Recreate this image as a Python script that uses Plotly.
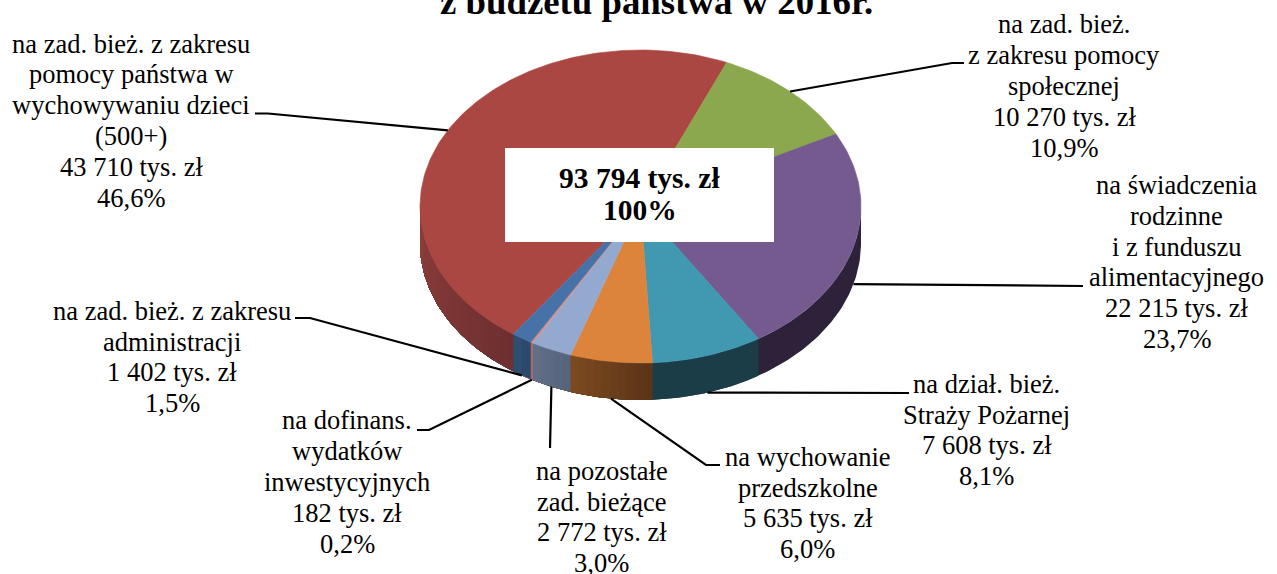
import math
import plotly.graph_objects as go

# ---- data ----
categories = [
    ["na zad. bież. z zakresu", "pomocy państwa w", "wychowywaniu dzieci", "(500+)"],
    ["na zad. bież.", "z zakresu pomocy", "społecznej"],
    ["na świadczenia", "rodzinne", "i z funduszu", "alimentacyjnego"],
    ["na dział. bież.", "Straży Pożarnej"],
    ["na wychowanie", "przedszkolne"],
    ["na pozostałe", "zad. bieżące"],
    ["na dofinans.", "wydatków", "inwestycyjnych"],
    ["na zad. bież. z zakresu", "administracji"],
]
values = [43710, 10270, 22215, 7608, 5635, 2772, 182, 1402]
value_labels = ["43 710", "10 270", "22 215", "7 608", "5 635", "2 772", "182", "1 402"]
pct_labels = ["46,6%", "10,9%", "23,7%", "8,1%", "6,0%", "3,0%", "0,2%", "1,5%"]
total_lines = ["93 794 tys. zł", "100%"]
title_text = "z budżetu państwa w 2016r."

# ---- style ----
top_colors = ["#AB4743", "#8BA84E", "#745A8F", "#4098B1", "#DC843C", "#93A9CF", "#D09490", "#4672A8"]
side_left = ["#8E3E3B", "#5A6C30", "#2D2239", "#1B3D48", "#7C4B20", "#616F88", "#A86A68", "#2F4F74"]
side_right = ["#6E2F30", "#5A6C30", "#2D2239", "#1B3D48", "#5A3417", "#55647A", "#A86A68", "#2A4868"]
FONT = "Liberation Serif"
LABEL_SIZE = 26.5
LINE_PITCH = 30.8

# ---- layout geometry of the pie ----
CX, CY, RX, RY, DEPTH = 640.5, 206.5, 220.5, 156.5, 37
ROTATION = 23 * 1.0
# label centre, elbow points for every leader line
label_pos = [(131, 120.5), (1064, 86), (1176.5, 262), (986.5, 430), (807.5, 503), (601.5, 517), (347, 482), (172, 357)]
elbows = [
    [(268, 113.5), (255, 113.5)],
    [(952, 63), (964, 63)],
    [(1083, 286)],
    [(909, 393)],
    [(706, 465), (720, 465)],
    [(550, 448)],
    [(429, 430), (417, 430)],
    [(310, 318), (295, 318)],
]


def pt(deg, drop=0.0):
    a = math.radians(deg)
    return CX + RX * math.sin(a), CY - RY * math.cos(a) + drop


def hexlerp(c1, c2, t):
    a = [int(c1[i:i + 2], 16) for i in (1, 3, 5)]
    b = [int(c2[i:i + 2], 16) for i in (1, 3, 5)]
    return "#%02x%02x%02x" % tuple(round(x + (y - x) * t) for x, y in zip(a, b))


fig = go.Figure()
total = sum(values)
spans = []
angle = ROTATION - values[0] / total * 360
for v in values:
    sweep = v / total * 360
    spans.append((angle, angle + sweep))
    angle += sweep


def poly(xs, ys, color, width=0.6):
    fig.add_trace(go.Scatter(x=xs, y=ys, mode="lines", fill="toself", fillcolor=color,
                             line=dict(color=color, width=width), hoverinfo="skip", showlegend=False))


# side wall (only the part facing the viewer); shading painted as overlapping layers,
# every layer runs on to the far end of the wall and the next one paints over it
for i in list(range(1, len(spans))) + [0]:
    a0, a1 = spans[i]
    if i == 0:
        s0, s1 = a0 % 360, 270.0
    else:
        s0, s1 = max(a0 % 360, 90.0), min(a0 % 360 + (a1 - a0), 270.0)
    if s1 <= s0:
        continue
    n = 1 if side_left[i] == side_right[i] else max(1, int((s1 - s0) / 2))
    for k in range(n):
        b0 = s0 + (s1 - s0) * k / n
        m = max(2, int(270.0 - b0))
        top = [pt(b0 + (270.0 - b0) * j / m) for j in range(m + 1)]
        bot = [pt(b0 + (270.0 - b0) * j / m, DEPTH) for j in range(m, -1, -1)]
        c = hexlerp(side_right[i], side_left[i], (k + 0.5) / n)
        pts = top + bot + [top[0]]
        poly([p[0] for p in pts], [p[1] for p in pts], c, width=0)

# top face
for i, (a0, a1) in enumerate(spans):
    n = max(2, int(a1 - a0))
    pts = [(CX, CY)] + [pt(a0 + (a1 - a0) * j / n) for j in range(n + 1)] + [(CX, CY)]
    poly([p[0] for p in pts], [p[1] for p in pts], top_colors[i])

# leader lines
for i, (a0, a1) in enumerate(spans):
    mid = (a0 + a1) / 2
    visible_side = 90 < mid % 360 < 270
    start = pt(mid, DEPTH if visible_side else 0)
    pts = [start] + elbows[i]
    fig.add_trace(go.Scatter(x=[p[0] for p in pts], y=[p[1] for p in pts], mode="lines",
                             line=dict(color="#000000", width=2.2), hoverinfo="skip", showlegend=False))

annotations = []
for i, (x, y) in enumerate(label_pos):
    lines = categories[i] + [f"{value_labels[i]} tys. zł", pct_labels[i]]
    for j, line in enumerate(lines):
        annotations.append(dict(
            x=x, y=y + (j - (len(lines) - 1) / 2) * LINE_PITCH, xref="x", yref="y", showarrow=False,
            xanchor="center", yanchor="middle", align="center", text=line,
            font=dict(family=FONT, size=LABEL_SIZE, color="#000000")))
for j, line in enumerate(total_lines):
    annotations.append(dict(x=639.5, y=177.5 + 32 * j, xref="x", yref="y", showarrow=False, xanchor="center",
                            yanchor="middle", align="center", text=f"<b>{line}</b>",
                            font=dict(family=FONT, size=29.5, color="#000000")))
annotations.append(dict(x=656.5 / 1277, y=1 - 2 / 574, xref="paper", yref="paper", showarrow=False, xanchor="center",
                        yanchor="middle", text=f"<b>{title_text}</b>",
                        font=dict(family=FONT, size=36.8, color="#000000")))

fig.update_layout(
    width=1277, height=574, margin=dict(l=0, r=0, t=0, b=0),
    paper_bgcolor="#ffffff", plot_bgcolor="#ffffff", showlegend=False,
    xaxis=dict(range=[0, 1277], visible=False, fixedrange=True),
    yaxis=dict(range=[574, 0], visible=False, fixedrange=True),
    shapes=[dict(type="rect", xref="x", yref="y", x0=505, x1=774, y0=148, y1=242,
                 fillcolor="#ffffff", line=dict(width=0), layer="above")],
    annotations=annotations,
)
fig.write_html("out.html", post_script="document.body.style.margin='0';", config=dict(displayModeBar=False))
